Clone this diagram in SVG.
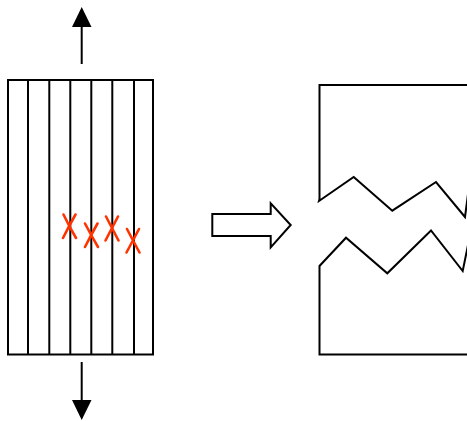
<svg xmlns="http://www.w3.org/2000/svg" width="467" height="421" viewBox="0 0 467 421">
<style>
.ln{fill:none;stroke:#000;stroke-width:2;stroke-linejoin:miter}
.x{fill:none;stroke:#ff3300;stroke-width:2.6;stroke-linecap:round}
.hd{fill:#000;stroke:none}
</style>
<rect width="467" height="421" fill="#fff"/>
<g id="fibre-bundle">
<rect class="ln" x="8" y="80" width="145" height="274.5"/>
<path class="ln" d="M28 80V354.5M49.3 80V354.5M70.3 80V354.5M91.3 80V354.5M112.3 80V354.5M134 80V354.5"/>
</g>
<g id="breaks">
<path class="x" d="M63.5 214.5Q69 226 76 238M75.5 214.5Q69 226 63 238"/>
<path class="x" d="M85 223.5Q91 235 98 247M97.5 223.5Q91 235 85 247"/>
<path class="x" d="M106 216.5Q112 228 118.5 240.5M118 216.5Q112 228 105.5 240.5"/>
<path class="x" d="M127 229Q133 240.5 139.5 252.5M139 229Q133 240.5 126.5 252.5"/>
</g>
<g id="connectors">
<line class="ln" x1="81.7" y1="26" x2="81.7" y2="64"/>
<polygon class="hd" points="81.7,7 72,27 91.5,27"/>
<line class="ln" x1="81.7" y1="362" x2="81.7" y2="401"/>
<polygon class="hd" points="81.7,420 72,400 91.5,400"/>
</g>
<g id="transform-arrow">
<polygon class="ln" points="212.3,214 270.7,214 270.7,203.3 290.7,225 270.7,247.3 270.7,236 212.3,236"/>
</g>
<g id="upper-fragment">
<polyline class="ln" points="468,85 319.5,85 319.5,199 319,201 353.7,177 392.3,210.7 436,182 465,217 468,194"/>
</g>
<g id="lower-fragment">
<polyline class="ln" points="468,354.5 319.5,354.5 319.5,266 346,237.7 387.3,273.3 431,230.5 462.7,271 468,245"/>
</g>
</svg>
